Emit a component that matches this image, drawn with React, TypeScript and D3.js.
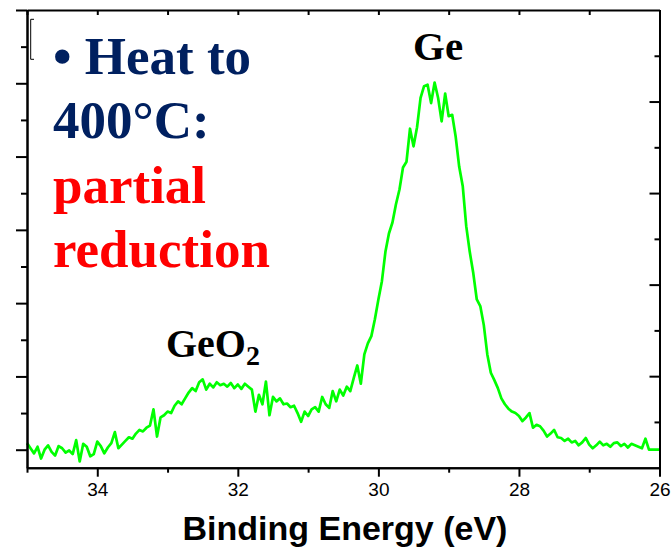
import React, { useEffect, useRef } from 'react';
import * as d3 from 'd3';

// binding energy grid (eV), high -> low
const energies = [
  35.0, 34.95, 34.9, 34.85, 34.8, 34.75, 34.7, 34.65, 34.6, 34.55,
  34.5, 34.45, 34.4, 34.35, 34.3, 34.25, 34.2, 34.15, 34.1, 34.05,
  34.0, 33.95, 33.9, 33.85, 33.8, 33.75, 33.7, 33.65, 33.6, 33.55,
  33.5, 33.45, 33.4, 33.35, 33.3, 33.25, 33.2, 33.15, 33.1, 33.05,
  33.0, 32.95, 32.9, 32.85, 32.8, 32.75, 32.7, 32.65, 32.6, 32.55,
  32.5, 32.45, 32.4, 32.35, 32.3, 32.25, 32.2, 32.15, 32.1, 32.05,
  32.0, 31.95, 31.9, 31.85, 31.8, 31.75, 31.7, 31.65, 31.6, 31.55,
  31.5, 31.45, 31.4, 31.35, 31.3, 31.25, 31.2, 31.15, 31.1, 31.05,
  31.0, 30.95, 30.9, 30.85, 30.8, 30.75, 30.7, 30.65, 30.6, 30.55,
  30.5, 30.45, 30.4, 30.35, 30.3, 30.25, 30.2, 30.15, 30.1, 30.05,
  30.0, 29.95, 29.9, 29.85, 29.8, 29.75, 29.7, 29.65, 29.6, 29.55,
  29.5, 29.45, 29.4, 29.35, 29.3, 29.25, 29.2, 29.15, 29.1, 29.05,
  29.0, 28.95, 28.9, 28.85, 28.8, 28.75, 28.7, 28.65, 28.6, 28.55,
  28.5, 28.45, 28.4, 28.35, 28.3, 28.25, 28.2, 28.15, 28.1, 28.05,
  28.0, 27.95, 27.9, 27.85, 27.8, 27.75, 27.7, 27.65, 27.6, 27.55,
  27.5, 27.45, 27.4, 27.35, 27.3, 27.25, 27.2, 27.15, 27.1, 27.05,
  27.0, 26.95, 26.9, 26.85, 26.8, 26.75, 26.7, 26.65, 26.6, 26.55,
  26.5, 26.45, 26.4, 26.35, 26.3, 26.25, 26.2, 26.15, 26.1, 26.05,
  26.0,
];

// intensity (arb. units)
const intensity = [
  0.09, 0.02, -0.05, 0.04, -0.12, 0.0, 0.06, -0.03, -0.08, 0.05,
  0.02, -0.04, -0.01, -0.06, 0.13, -0.16, 0.08, 0.04, -0.09, -0.06,
  0.11, 0.05, -0.05, 0.03, 0.09, 0.24, 0.02, 0.07, 0.12, 0.17,
  0.15, 0.22, 0.27, 0.25, 0.3, 0.33, 0.55, 0.18, 0.44, 0.47,
  0.52, 0.5, 0.6, 0.66, 0.62, 0.7, 0.78, 0.84, 0.8, 0.92,
  0.96, 0.82, 0.9, 0.85, 0.92, 0.88, 0.9, 0.86, 0.91, 0.84,
  0.89, 0.83, 0.9, 0.86, 0.82, 0.52, 0.75, 0.62, 0.93, 0.47,
  0.72, 0.66, 0.7, 0.62, 0.63, 0.58, 0.6, 0.5, 0.38, 0.52,
  0.46, 0.55, 0.58, 0.52, 0.72, 0.62, 0.57, 0.8, 0.66, 0.82,
  0.74, 0.86, 0.8, 0.98, 1.15, 0.9, 1.3, 1.45, 1.55, 1.78,
  2.05, 2.3, 2.7, 2.95, 3.1, 3.35, 3.55, 3.85, 3.93, 4.38,
  4.14, 4.4, 4.8, 4.96, 4.98, 4.73, 5.01, 4.8, 4.48, 4.86,
  4.55, 4.57, 4.27, 3.86, 3.6, 3.05, 2.7, 2.41, 2.05, 1.96,
  1.7, 1.3, 1.05, 0.95, 0.84, 0.7, 0.62, 0.56, 0.52, 0.5,
  0.46, 0.39, 0.44, 0.5, 0.3, 0.34, 0.32, 0.26, 0.18, 0.22,
  0.27, 0.17, 0.16, 0.12, 0.15, 0.1, 0.12, 0.06, 0.1, 0.16,
  0.07, 0.02, 0.06, 0.11, 0.06, 0.08, 0.04, 0.09, 0.1, 0.05,
  0.08, 0.03, 0.08, 0.06, 0.04, 0.02, 0.15, 0.0, 0.0, 0.0,
  0.0,
];

const xMajorTicks = [34, 32, 30, 28, 26];
const xMinorTicks = [35, 33, 31, 29, 27];
const leftMajorTicks = [0, 1, 2, 3, 4, 5, 6];
const leftMinorTicks = [0.5, 1.5, 2.5, 3.5, 4.5, 5.5];
const rightMajorTicks = [1, 2, 3, 4];
const rightMinorTicks = [0.5, 1.5, 2.5, 3.5, 4.5];

const noteLines = [
  { text: '\u2022 Heat to', color: '#002060' },
  { text: '400\u00B0C:', color: '#002060' },
  { text: 'partial', color: '#ff0000' },
  { text: 'reduction', color: '#ff0000' },
];

const W = 672;
const H = 549;
const plotLeft = 27;
const plotRight = 659.5;
const plotTop = 10;
const plotBottom = 467.7;

const serif = "'Liberation Serif', 'Times New Roman', serif";
const sans = "'Liberation Sans', Arial, sans-serif";

export default function App() {
  const ref = useRef<SVGSVGElement>(null);

  useEffect(() => {
    const svg = d3.select(ref.current);
    svg.selectAll('*').remove();

    const x = d3.scaleLinear().domain([35, 26]).range([plotLeft, plotRight]);
    const yL = d3.scaleLinear().domain([-0.2455, 6]).range([plotBottom, plotTop]);
    const yR = d3.scaleLinear().domain([0, 5]).range([plotBottom, plotTop]);

    const styleAxis = (g) => {
      g.selectAll('path').attr('stroke', '#000').attr('stroke-width', 2);
      g.selectAll('line').attr('stroke', '#000').attr('stroke-width', 2);
    };

    // spectrum
    const line = d3
      .line<number>()
      .x((d, i) => x(energies[i]))
      .y((d) => yL(d));
    svg
      .append('path')
      .datum(intensity)
      .attr('d', line)
      .attr('fill', 'none')
      .attr('stroke', '#00ff00')
      .attr('stroke-width', 2.7)
      .attr('stroke-linejoin', 'round');

    // top axis (inward ticks)
    const top = svg
      .append('g')
      .attr('transform', `translate(0,${plotTop})`)
      .call(
        d3.axisTop(x).tickValues([...xMajorTicks, ...xMinorTicks]).tickSize(-5).tickSizeOuter(0).tickFormat(() => ''),
      );
    styleAxis(top);

    // right axis (inward ticks)
    const right = svg
      .append('g')
      .attr('transform', `translate(${plotRight},0)`)
      .call(d3.axisRight(yR).tickValues(rightMajorTicks).tickSize(-10).tickSizeOuter(0).tickFormat(() => ''));
    styleAxis(right);
    const rightMinor = svg
      .append('g')
      .attr('transform', `translate(${plotRight},0)`)
      .call(d3.axisRight(yR).tickValues(rightMinorTicks).tickSize(-5).tickSizeOuter(0).tickFormat(() => ''));
    styleAxis(rightMinor);

    // left axis (outward ticks)
    const left = svg
      .append('g')
      .attr('transform', `translate(${plotLeft},0)`)
      .call(d3.axisLeft(yL).tickValues(leftMajorTicks).tickSize(11).tickSizeOuter(0).tickFormat(() => ''));
    styleAxis(left);
    const leftMinor = svg
      .append('g')
      .attr('transform', `translate(${plotLeft},0)`)
      .call(d3.axisLeft(yL).tickValues(leftMinorTicks).tickSize(6).tickSizeOuter(0).tickFormat(() => ''));
    styleAxis(leftMinor);

    // bottom axis
    const bottomMinor = svg
      .append('g')
      .attr('transform', `translate(0,${plotBottom})`)
      .call(d3.axisBottom(x).tickValues(xMinorTicks).tickSize(5).tickSizeOuter(0).tickFormat(() => ''));
    styleAxis(bottomMinor);
    const bottom = svg
      .append('g')
      .attr('transform', `translate(0,${plotBottom})`)
      .call(d3.axisBottom(x).tickValues(xMajorTicks).tickSize(9).tickSizeOuter(0).tickFormat(d3.format('d')));
    styleAxis(bottom);
    bottom
      .selectAll('text')
      .attr('y', 28.5)
      .attr('dy', 0)
      .attr('fill', '#000')
      .style('font-family', sans)
      .style('font-size', '19px');

    // remnant legend bracket
    svg
      .append('path')
      .attr('d', 'M34,19.3H30.7V59.3H34')
      .attr('fill', 'none')
      .attr('stroke', '#000')
      .attr('stroke-width', 1);

    // axis title
    svg
      .append('text')
      .attr('x', 345)
      .attr('y', 540)
      .attr('text-anchor', 'middle')
      .style('font-family', sans)
      .style('font-weight', 'bold')
      .style('font-size', '34px')
      .text('Binding Energy (eV)');

    // peak labels
    svg
      .append('text')
      .attr('x', 413)
      .attr('y', 60)
      .style('font-family', serif)
      .style('font-weight', 'bold')
      .style('font-size', '41px')
      .text('Ge');
    const geo = svg
      .append('text')
      .attr('x', 166)
      .attr('y', 356.5)
      .style('font-family', serif)
      .style('font-weight', 'bold')
      .style('font-size', '40px');
    geo.append('tspan').text('GeO');
    geo.append('tspan').attr('dy', 8).style('font-size', '28px').text('2');

    // annotation
    const note = svg
      .append('g')
      .style('font-family', serif)
      .style('font-weight', 'bold')
      .style('font-size', '53px');
    const baselines = [74, 138, 203, 266.5];
    noteLines.forEach((item, i) => {
      note
        .append('text')
        .attr('x', 53)
        .attr('y', baselines[i])
        .attr('fill', item.color)
        .text(item.text);
    });
  }, []);

  return (
    <div style={{ position: 'absolute', left: 0, top: 0 }}>
      <svg ref={ref} width={W} height={H} style={{ display: 'block', background: '#fff' }} />
    </div>
  );
}
